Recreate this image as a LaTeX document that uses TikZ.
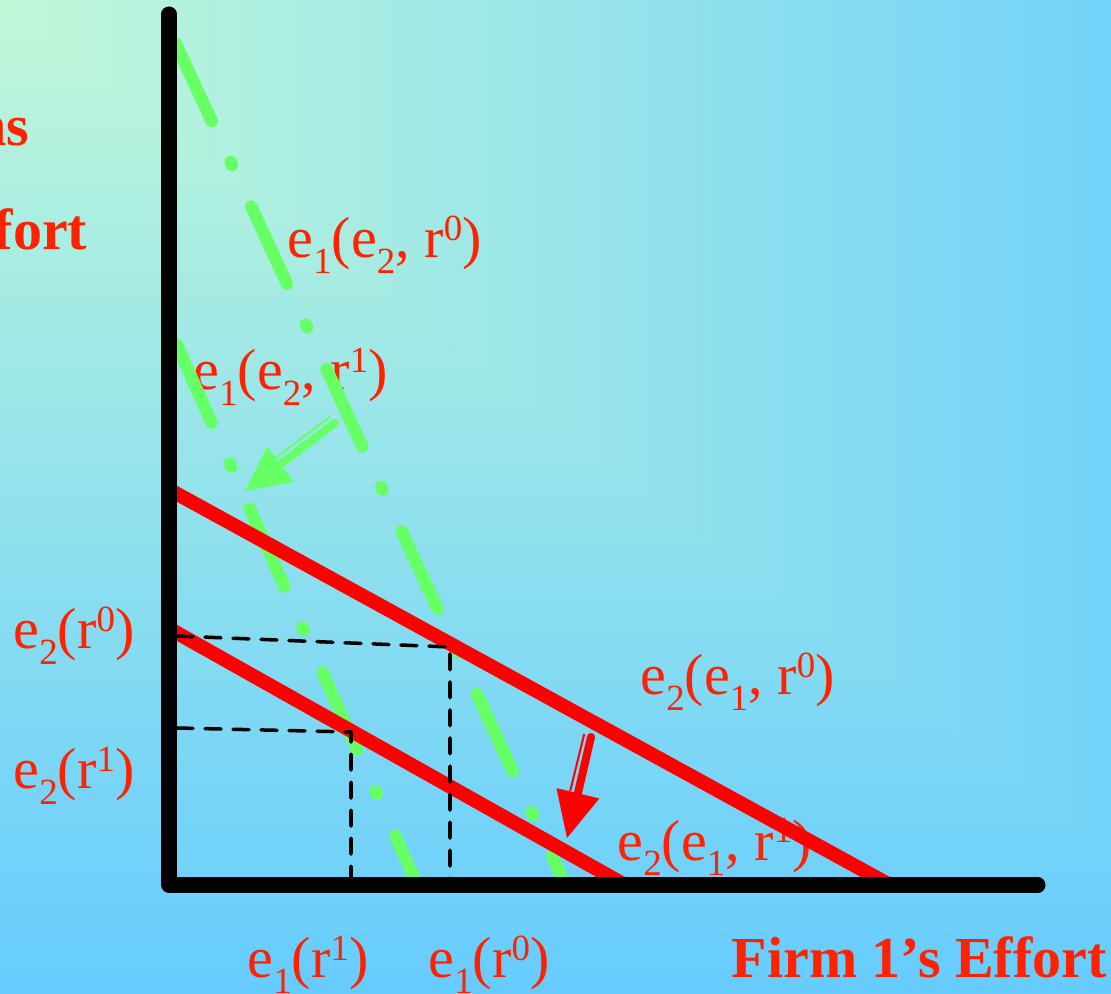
\documentclass[tikz,border=0pt]{standalone}
\usepackage{fontspec}
\setmainfont{Liberation Serif}
\definecolor{bgA}{HTML}{C0F8D8}
\definecolor{bgB}{HTML}{66CCFF}
\definecolor{lblred}{HTML}{FF2200}
\definecolor{grn}{HTML}{66FF66}
\definecolor{rd}{HTML}{FF0000}
\newcommand{\mysub}[1]{\raisebox{-0.26em}{\fontsize{10.5pt}{12pt}\selectfont #1}}
\newcommand{\mysup}[1]{\raisebox{0.31em}{\fontsize{10.5pt}{12pt}\selectfont #1}}
\begin{document}
\begin{tikzpicture}[x=0.01cm,y=-0.01cm,
  lab/.style={text=lblred, inner sep=0pt, font=\fontsize{16.5pt}{20pt}\selectfont},
  grnline/.style={draw=grn, line width=0.125cm, line cap=round,
     dash pattern=on 0.85cm off 0.45cm on 0.03cm off 0.46cm},
  redline/.style={draw=rd, line width=0.14cm},
  dsh/.style={draw=black, line width=0.035cm, line cap=round, dash pattern=on 0.16cm off 0.12cm, line join=round},
  axisline/.style={draw=black, line width=0.15cm, line cap=round, line join=round},
  shaftthick/.style={line width=0.08cm, line cap=round},
  shaftthin/.style={line width=0.02cm}]
\useasboundingbox (0,0) rectangle (1111,994);
% background gradient (rectangular, from top-left corner)
\foreach \i in {80,79,...,1}{
  \pgfmathtruncatemacro{\p}{\i*1.25}
  \pgfmathsetmacro{\w}{\i*16.25}
  \pgfmathsetmacro{\h}{\i*12.425}
  \fill[bgB!\p!bgA] (0,0) rectangle (\w,\h);
}
% labels
\node[lab, anchor=base east] (ns) at (30,146) {\bfseries ns};
\node[lab, anchor=base east] (fort) at (88,250) {\bfseries fort};
\node[lab, anchor=base west] (la0) at (287,258) {e\mysub{1}(e\mysub{2}, r\mysup{0})};
\node[lab, anchor=base west] (la1) at (193,390) {e\mysub{1}(e\mysub{2}, r\mysup{1})};
\node[lab, anchor=base west] (lb0) at (640,695) {e\mysub{2}(e\mysub{1}, r\mysup{0})};
\node[lab, anchor=base west] (lb1) at (617,860) {e\mysub{2}(e\mysub{1}, r\mysup{1})};
\node[lab, anchor=base west] (y0) at (13,649) {e\mysub{2}(r\mysup{0})};
\node[lab, anchor=base west] (y1) at (13,789) {e\mysub{2}(r\mysup{1})};
\node[lab, anchor=base west] (x1) at (247,978) {e\mysub{1}(r\mysup{1})};
\node[lab, anchor=base west] (x0) at (428,978) {e\mysub{1}(r\mysup{0})};
\node[lab, anchor=base west] (xt) at (731,978) {\bfseries Firm 1’s Effort};
% green reaction curves of firm 1
\coordinate (a0) at (176,44);  \coordinate (a1) at (564,882);
\coordinate (b0) at (177,345); \coordinate (b1) at (415,880);
\draw[grnline] (a0) -- (a1);
\draw[grnline] (b0) -- (b1);
% red reaction curves of firm 2
\coordinate (c0) at (170,490); \coordinate (c1) at (890,885);
\coordinate (d0) at (170,629); \coordinate (d1) at (625,885);
\draw[redline] (c0) -- (c1);
\draw[redline] (d0) -- (d1);
% dashed guides
\coordinate (p0) at (177,636); \coordinate (q0) at (450,647); \coordinate (r0) at (450,885);
\coordinate (p1) at (177,728); \coordinate (q1) at (351,732); \coordinate (r1) at (351,885);
\draw[dsh] (p0) -- (q0) -- (r0);
\draw[dsh] (p1) -- (q1) -- (r1);
% axes
\coordinate (ytop) at (169,14); \coordinate (org) at (169,885); \coordinate (xend) at (1038,885);
\draw[axisline] (ytop) -- (org) -- (xend);
% green arrow
\coordinate (gs) at (335,423); \coordinate (gb) at (280.5,464.2); \coordinate (gt) at (245,491);
\coordinate (gc1) at (293.8,481.8); \coordinate (gc2) at (267.2,446.6);
\coordinate (gs2) at (330.2,416.6); \coordinate (gb2) at (275.7,457.8);
\draw[grn, shaftthick] (gs) -- (gb);
\draw[grn, shaftthin] (gs2) -- (gb2);
\fill[grn] (gt) -- (gc1) -- (gc2) -- cycle;
% red arrow
\coordinate (rs) at (591,737); \coordinate (rb) at (577.9,793.3); \coordinate (rt) at (567,838);
\coordinate (rc1) at (599.3,798.5); \coordinate (rc2) at (556.5,788.1);
\coordinate (rs2) at (584.2,734.1); \coordinate (rb2) at (570.1,791.4);
\draw[rd, shaftthick] (rs) -- (rb);
\draw[rd, shaftthin] (rs2) -- (rb2);
\fill[rd] (rt) -- (rc1) -- (rc2) -- cycle;
\end{tikzpicture}
\end{document}
